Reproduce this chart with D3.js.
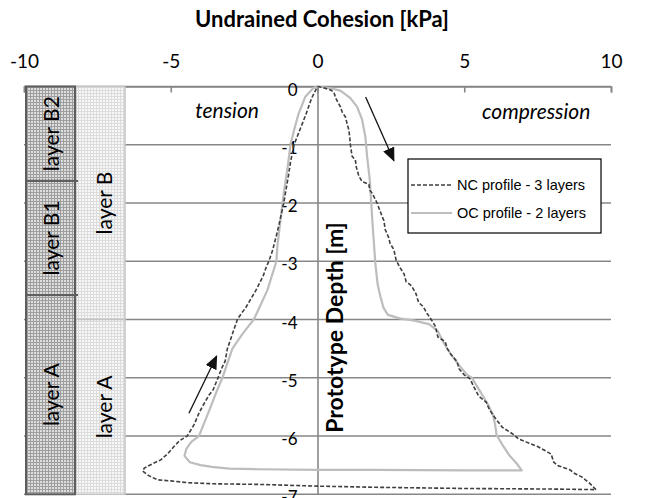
<!DOCTYPE html>
<html><head><meta charset="utf-8">
<script src="https://cdn.jsdelivr.net/npm/d3@7"></script>
<style>body{margin:0;background:#fff;overflow:hidden}</style>
</head><body>
<script>
// ---------------- data ----------------
const xTicks = [-10, -5, 0, 5, 10];
const yTicks = [0, -1, -2, -3, -4, -5, -6, -7];
const xTitle = "Undrained Cohesion [kPa]";
const yTitle = "Prototype Depth [m]";
const legendLabels = ["NC profile - 3 layers", "OC profile - 2 layers"];

// NC profile (3 layers) : down the compression side, across the bottom, up the tension side
const ncCohesion = [0.0,0.2,0.45,0.56,0.62,0.78,0.85,0.95,1.0,1.07,1.1,1.12,1.18,1.29,1.32,1.35,1.41,1.52,1.75,1.78,1.86,2.03,2.12,2.2,2.26,2.31,2.43,2.47,2.6,2.68,2.8,2.95,3.02,3.2,3.35,3.44,3.6,3.74,3.9,4.02,4.1,4.35,4.42,4.55,4.75,4.83,5.0,5.2,5.32,5.5,5.75,5.86,6.08,6.3,6.67,6.85,7.1,7.5,7.72,7.96,8.05,8.2,8.6,8.75,9.0,9.25,9.49,
  8.0,5.0,2.0,0.0,-2.0,-3.5,-4.44,-5.0,-5.46,-5.75,-5.96,-5.9,-5.6,-5.34,-5.1,-4.89,-4.7,-4.44,
  -4.2,-4.05,-3.93,-3.7,-3.55,-3.39,-3.25,-3.15,-3.07,-2.9,-2.73,-2.6,-2.45,-2.1,-1.85,-1.76,-1.66,-1.54,-1.37,-1.28,-1.15,-0.98,-0.92,-0.8,-0.41,-0.2,0.0];
const ncDepth = [0.0,-0.02,-0.06,-0.1,-0.2,-0.35,-0.45,-0.52,-0.62,-0.75,-0.88,-1.0,-1.2,-1.26,-1.38,-1.43,-1.54,-1.63,-1.68,-1.78,-1.83,-2.0,-2.12,-2.23,-2.3,-2.46,-2.6,-2.69,-2.8,-2.98,-3.1,-3.22,-3.35,-3.42,-3.55,-3.7,-3.78,-3.9,-4.02,-4.12,-4.3,-4.38,-4.5,-4.6,-4.72,-4.85,-4.95,-5.02,-5.15,-5.32,-5.42,-5.55,-5.71,-5.85,-5.97,-6.05,-6.1,-6.18,-6.24,-6.31,-6.45,-6.51,-6.58,-6.64,-6.7,-6.8,-6.92,
  -6.91,-6.9,-6.88,-6.86,-6.83,-6.82,-6.8,-6.77,-6.75,-6.68,-6.6,-6.55,-6.47,-6.41,-6.3,-6.18,-6.08,-6.0,
  -5.8,-5.62,-5.5,-5.3,-5.2,-5.0,-4.82,-4.72,-4.5,-4.25,-4.0,-3.9,-3.8,-3.5,-3.25,-3.12,-3.0,-2.83,-2.5,-2.3,-2.0,-1.5,-1.3,-1.0,-0.5,-0.2,0.0];

// OC profile (2 layers)
const ocCohesion = [0.0,0.44,0.78,1.12,1.35,1.52,1.63,1.69,1.78,1.83,1.89,1.97,2.05,2.14,2.25,2.4,2.8,3.3,3.8,4.1,4.3,4.55,4.85,5.1,5.26,5.5,5.8,5.97,6.05,6.1,6.3,6.55,6.8,6.96,
  5.0,2.0,0.0,-2.0,-3.0,-3.6,-3.98,-4.35,-4.53,-4.47,-4.3,-4.04,
  -3.88,-3.64,-3.45,-3.24,-2.9,-2.56,-2.3,-2.17,-1.94,-1.71,-1.4,-1.37,-1.26,-1.15,-1.03,-0.92,-0.8,-0.64,-0.41,-0.15,0.0];
const ocDepth = [0.0,-0.03,-0.07,-0.2,-0.35,-0.57,-0.86,-1.2,-1.6,-2.0,-2.46,-3.03,-3.4,-3.6,-3.8,-3.92,-3.98,-4.02,-4.08,-4.2,-4.4,-4.6,-4.8,-4.95,-5.0,-5.2,-5.45,-5.62,-5.8,-5.98,-6.15,-6.34,-6.48,-6.59,
  -6.59,-6.58,-6.58,-6.57,-6.56,-6.53,-6.5,-6.45,-6.34,-6.22,-6.1,-6.0,
  -5.8,-5.5,-5.25,-5.0,-4.5,-4.25,-4.08,-4.0,-3.75,-3.5,-3.0,-2.75,-2.29,-1.83,-1.43,-1.0,-0.75,-0.46,-0.17,-0.03,0.0];

// soil layers
const layers3Names = ["layer B2", "layer B1", "layer A"];
const layers3Top = [0, -1.62, -3.58];
const layers3Bottom = [-1.62, -3.58, -7];
const layers2Names = ["layer B", "layer A"];
const layers2Top = [0, -4];
const layers2Bottom = [-4, -7];

// annotations (data coordinates)
const annoText = ["tension", "compression"];
const annoX = [-3.08, 7.45];
const annoY = [-0.4, -0.42];
const arrowFromX = [1.64, -4.38], arrowFromY = [-0.18, -5.61];
const arrowToX = [2.6, -3.44], arrowToY = [-1.27, -4.63];

// ---------------- drawing ----------------
const W = 661, H = 498;
const svg = d3.select("body").append("svg").attr("width", W).attr("height", H)
  .style("font-family", "Lato, 'Open Sans', sans-serif");

const x = d3.scaleLinear().domain([-10, 10]).range([24, 611]);
const y = d3.scaleLinear().domain([0, -7]).range([86.5, 494.3]);
const gridCol = "#878787";
const fmt = d => String(d);

const defs = svg.append("defs");
const p1 = defs.append("pattern").attr("id", "pat1").attr("width", 3).attr("height", 3).attr("patternUnits", "userSpaceOnUse");
p1.append("rect").attr("width", 3).attr("height", 3).attr("fill", "#dedede");
p1.append("path").attr("d", "M0,0.5H3M0.5,0V3").attr("stroke", "#9e9e9e").attr("stroke-width", 1);
const p2 = defs.append("pattern").attr("id", "pat2").attr("width", 3).attr("height", 3).attr("patternUnits", "userSpaceOnUse");
p2.append("rect").attr("width", 3).attr("height", 3).attr("fill", "#f7f7f7");
p2.append("path").attr("d", "M0,0.5H3M0.5,0V3").attr("stroke", "#dcdcdc").attr("stroke-width", 1);
defs.append("marker").attr("id", "ah").attr("viewBox", "0 0 10 10").attr("refX", 9).attr("refY", 5)
  .attr("markerWidth", 14).attr("markerHeight", 12).attr("markerUnits", "userSpaceOnUse").attr("orient", "auto")
  .attr("preserveAspectRatio", "none")
  .append("path").attr("d", "M0,0L10,5L0,10Z").attr("fill", "#111");

// horizontal gridlines
svg.append("g").selectAll("line").data(yTicks).join("line")
  .attr("x1", x(-10)).attr("x2", x(10)).attr("y1", d => y(d)).attr("y2", d => y(d))
  .attr("stroke", gridCol).attr("stroke-width", 1.6);

// top axis
const topAxis = d3.axisTop(x).tickValues(xTicks).tickSize(-6).tickPadding(19).tickFormat(fmt);
const gTop = svg.append("g").attr("transform", `translate(0,${y(0)})`).call(topAxis);
gTop.select(".domain").attr("stroke", gridCol).attr("stroke-width", 1.6);
gTop.selectAll(".tick line").attr("stroke", gridCol).attr("stroke-width", 1.6);
gTop.selectAll(".tick text").attr("font-size", 19).attr("fill", "#000").attr("font-family", "Lato, sans-serif");

// vertical axis at 0
const leftAxis = d3.axisLeft(y).tickValues(yTicks).tickSize(0).tickPadding(20).tickFormat(fmt);
const gLeft = svg.append("g").attr("transform", `translate(${x(0)},0)`).call(leftAxis);
gLeft.select(".domain").attr("stroke", gridCol).attr("stroke-width", 1.6);
gLeft.selectAll(".tick text").attr("font-size", 17).attr("fill", "#000").attr("dy", "0.5em").attr("font-family", "Lato, sans-serif");

// layer columns
const col1 = [26, 75], col2 = [76, 125];
const L3 = layers3Names.map((n, i) => ({n, t: layers3Top[i], b: layers3Bottom[i]}));
const L2 = layers2Names.map((n, i) => ({n, t: layers2Top[i], b: layers2Bottom[i]}));
const g2 = svg.append("g");
g2.selectAll("rect").data(L2).join("rect")
  .attr("x", col2[0]).attr("width", col2[1] - col2[0])
  .attr("y", d => y(d.t)).attr("height", d => y(d.b) - y(d.t))
  .attr("fill", "url(#pat2)").attr("stroke", "#c4c4c4").attr("stroke-width", 1.5);
g2.selectAll("text").data(L2).join("text")
  .attr("transform", d => `translate(${(col2[0] + col2[1]) / 2 + 11},${(y(d.t) + y(d.b)) / 2}) rotate(-90)`)
  .attr("text-anchor", "middle").attr("font-size", 21).text(d => d.n);
const g1 = svg.append("g");
g1.selectAll("rect").data(L3).join("rect")
  .attr("x", col1[0]).attr("width", col1[1] - col1[0])
  .attr("y", d => y(d.t)).attr("height", d => y(d.b) - y(d.t))
  .attr("fill", "url(#pat1)").attr("stroke", "#5e5e5e").attr("stroke-width", 2);
g1.selectAll("line").data(L3.slice(1)).join("line")
  .attr("x1", col1[0]).attr("x2", col1[1] + 3).attr("y1", d => y(d.t)).attr("y2", d => y(d.t))
  .attr("stroke", "#5e5e5e").attr("stroke-width", 2);
g1.selectAll("text").data(L3).join("text")
  .attr("transform", d => `translate(${(col1[0] + col1[1]) / 2 + 8.5},${(y(d.t) + y(d.b)) / 2}) rotate(-90)`)
  .attr("text-anchor", "middle").attr("font-size", 21).text(d => d.n);

// profiles
const ncPts = ncCohesion.map((c, i) => [c, ncDepth[i]]);
const ocPts = ocCohesion.map((c, i) => [c, ocDepth[i]]);
const line = d3.line().x(d => x(d[0])).y(d => y(d[1]));
svg.append("path").attr("d", line(ocPts)).attr("fill", "none")
  .attr("stroke", "#bdbdbd").attr("stroke-width", 2.2).attr("stroke-linejoin", "round");
svg.append("path").attr("d", line(ncPts)).attr("fill", "none")
  .attr("stroke", "#3f3f3f").attr("stroke-width", 1.6).attr("stroke-dasharray", "4,2");

// annotation arrows
svg.append("g").selectAll("line").data(arrowFromX).join("line")
  .attr("x1", (d, i) => x(arrowFromX[i])).attr("y1", (d, i) => y(arrowFromY[i]))
  .attr("x2", (d, i) => x(arrowToX[i])).attr("y2", (d, i) => y(arrowToY[i]))
  .attr("stroke", "#111").attr("stroke-width", 1.3).attr("marker-end", "url(#ah)");

// annotation texts
svg.append("g").selectAll("text").data(annoText).join("text")
  .attr("x", (d, i) => x(annoX[i])).attr("y", (d, i) => y(annoY[i]))
  .attr("text-anchor", "middle").attr("dominant-baseline", "central")
  .attr("font-size", 21).attr("font-style", "italic").text(d => d);

// axis titles
svg.append("text").attr("x", 322).attr("y", 27).attr("text-anchor", "middle")
  .attr("font-size", 22).attr("font-weight", "bold").text(xTitle);
svg.append("text").attr("transform", `translate(${x(0) + 25.5},${327.5}) rotate(-90)`)
  .attr("text-anchor", "middle").attr("font-size", 23).attr("font-weight", "bold").text(yTitle);

// legend
const lg = svg.append("g").attr("font-family", "'Liberation Sans', Arial, sans-serif");
lg.append("rect").attr("x", 408).attr("y", 159).attr("width", 193).attr("height", 74)
  .attr("fill", "#fff").attr("stroke", "#000").attr("stroke-width", 1.2);
const legStroke = ["#3f3f3f", "#bdbdbd"], legDash = ["4,2", null], legW = [1.6, 2.2];
legendLabels.forEach((t, i) => {
  const yy = 185 + i * 28;
  lg.append("line").attr("x1", 411).attr("x2", 452).attr("y1", yy).attr("y2", yy)
    .attr("stroke", legStroke[i]).attr("stroke-width", legW[i]).attr("stroke-dasharray", legDash[i]);
  lg.append("text").attr("x", 457).attr("y", yy).attr("dominant-baseline", "central")
    .attr("font-size", 14.5).text(t);
});
</script>
</body></html>
